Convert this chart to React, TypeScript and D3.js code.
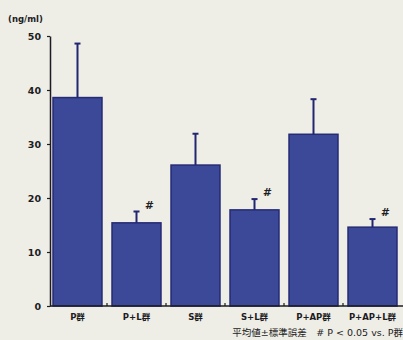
import React, { useRef, useEffect } from 'react';
import * as d3 from 'd3';

const groups = ['P群', 'P+L群', 'S群', 'S+L群', 'P+AP群', 'P+AP+L群'];
const means = [38.6, 15.4, 26.1, 17.8, 31.8, 14.6];
const errors = [10.0, 2.1, 5.8, 2.0, 6.5, 1.5];
const significant = [false, true, false, true, false, true];
const yTicks = [0, 10, 20, 30, 40, 50];

const App = () => {
  const svgRef = useRef<SVGSVGElement>(null);

  useEffect(() => {
    const svg = d3.select(svgRef.current);
    svg.selectAll('*').remove();

    const width = 403;
    const height = 340;
    const margin = { top: 36, right: 1, bottom: 34, left: 48 };
    const font = '"DejaVu Sans", "Noto Sans CJK JP", sans-serif';
    const ink = '#1c1c22';

    svg.append('rect').attr('width', width).attr('height', height).attr('fill', '#eeede6');

    const x = d3.scaleBand()
      .domain(groups)
      .range([margin.left, width - margin.right])
      .paddingInner(0.17)
      .paddingOuter(0.085);

    const y = d3.scaleLinear()
      .domain([0, 50])
      .range([height - margin.bottom, margin.top]);

    // bars
    svg.append('g')
      .selectAll('rect')
      .data(groups)
      .join('rect')
      .attr('x', (d) => x(d)!)
      .attr('y', (d, i) => y(means[i]))
      .attr('width', x.bandwidth())
      .attr('height', (d, i) => y(0) - y(means[i]))
      .attr('fill', '#3b4998')
      .attr('stroke', '#252b74')
      .attr('stroke-width', 1.5);

    // error bars
    const err = svg.append('g').attr('stroke', '#222670').attr('stroke-width', 2);
    groups.forEach((g, i) => {
      const cx = x(g)! + x.bandwidth() / 2;
      err.append('line')
        .attr('x1', cx).attr('x2', cx)
        .attr('y1', y(means[i])).attr('y2', y(means[i] + errors[i]));
      err.append('line')
        .attr('x1', cx - 3).attr('x2', cx + 3)
        .attr('y1', y(means[i] + errors[i])).attr('y2', y(means[i] + errors[i]));
      if (significant[i]) {
        svg.append('text')
          .attr('x', cx + 12)
          .attr('y', y(means[i] + errors[i]) - 3)
          .attr('text-anchor', 'middle')
          .attr('font-family', font)
          .attr('font-size', 11)
          .attr('font-weight', 'bold')
          .attr('font-style', 'italic')
          .attr('fill', ink)
          .text('#');
      }
    });

    // y axis
    const yAxis = svg.append('g')
      .attr('transform', `translate(${margin.left + 2},0)`)
      .call(d3.axisLeft(y).tickValues(yTicks).tickSize(3).tickSizeOuter(0));
    yAxis.select('.domain').attr('stroke', ink).attr('stroke-width', 1.5);
    yAxis.selectAll('.tick line').attr('stroke', ink).attr('stroke-width', 1.2);
    yAxis.selectAll('.tick text')
      .attr('x', -9)
      .attr('font-family', font)
      .attr('font-size', 9.5)
      .attr('font-weight', 'bold')
      .attr('fill', ink);

    // x axis
    const baseY = y(0);
    svg.append('line')
      .attr('x1', margin.left + 2).attr('x2', width)
      .attr('y1', baseY).attr('y2', baseY)
      .attr('stroke', ink).attr('stroke-width', 1.5);
    const step = x.step();
    groups.slice(1).forEach((g) => {
      const tx = x(g)! - (step - x.bandwidth()) / 2;
      svg.append('line')
        .attr('x1', tx).attr('x2', tx)
        .attr('y1', baseY).attr('y2', baseY - 3)
        .attr('stroke', ink).attr('stroke-width', 1.2);
    });

    svg.append('g')
      .selectAll('text')
      .data(groups)
      .join('text')
      .attr('x', (d) => x(d)! + x.bandwidth() / 2)
      .attr('y', baseY + 14)
      .attr('text-anchor', 'middle')
      .attr('font-family', font)
      .attr('font-size', 8.5)
      .attr('font-weight', 'bold')
      .attr('fill', ink)
      .text((d) => d);

    svg.append('text')
      .attr('x', 8)
      .attr('y', 22)
      .attr('font-family', font)
      .attr('font-size', 8.5)
      .attr('font-weight', 'bold')
      .attr('fill', ink)
      .text('(ng/ml)');

    svg.append('text')
      .attr('x', 403)
      .attr('y', 336)
      .attr('text-anchor', 'end')
      .attr('font-family', font)
      .attr('font-size', 9.5)
      .attr('fill', ink)
      .text('平均値±標準誤差　# P < 0.05 vs. P群');
  }, []);

  return (
    <div style={{ position: 'fixed', left: 0, top: 0 }}>
      <svg ref={svgRef} width={403} height={340} style={{ display: 'block' }}></svg>
    </div>
  );
};

export default App;
